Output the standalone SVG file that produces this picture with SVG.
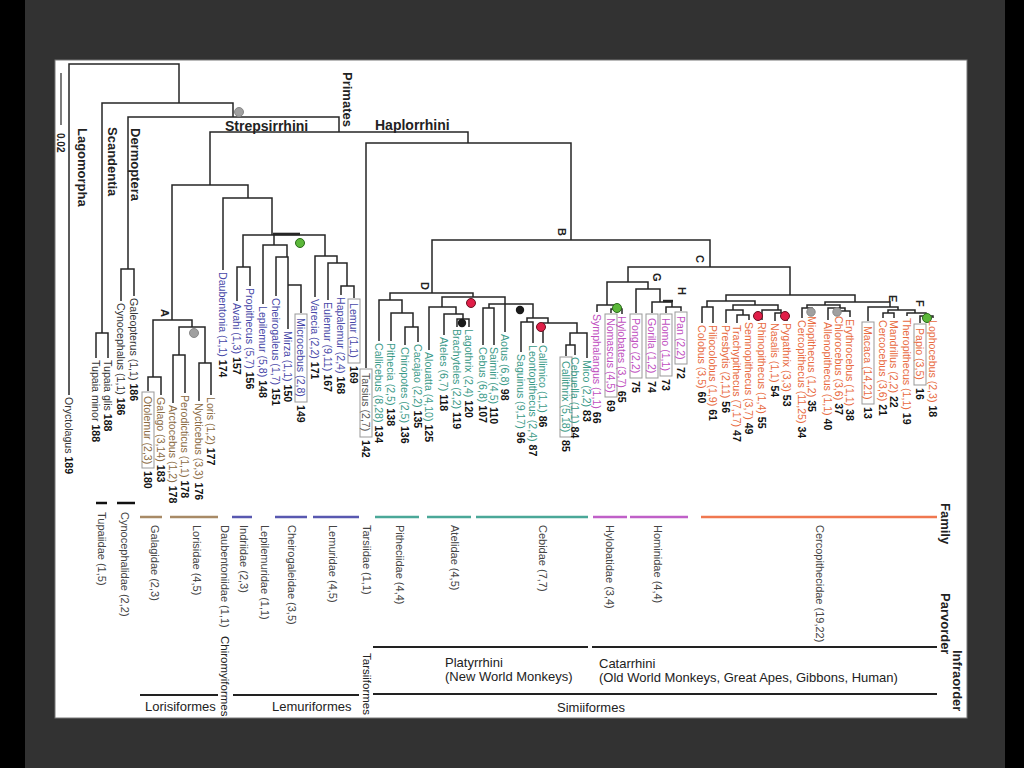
<svg xmlns="http://www.w3.org/2000/svg" width="1024" height="768" viewBox="0 0 1024 768">
<style>
.br{fill:none;stroke:#262626;stroke-width:1.5}
.t{font-family:"Liberation Sans",Arial,sans-serif;font-size:10.6px;dominant-baseline:central}
.n{font-weight:bold;fill:#111}
.og{fill:#333}.lo{fill:#8a6a42}.le{fill:#4848a8}.ta{fill:#555}.pl{fill:#3a9a88}.ho{fill:#c04ec0}.ce{fill:#e86a40}
.bx{fill:none;stroke:#999;stroke-width:1}
.cl{font-family:"Liberation Sans",Arial,sans-serif;font-weight:bold;fill:#222}
.nl{font-family:"Liberation Sans",Arial,sans-serif;font-weight:bold;font-size:11px;fill:#222;dominant-baseline:central}
.fm{font-family:"Liberation Sans",Arial,sans-serif;font-size:11px;fill:#444;dominant-baseline:central}
.fb{fill:none;stroke-width:2.5}
.lv{fill:none;stroke:#222;stroke-width:2}
.lt{font-family:"Liberation Sans",Arial,sans-serif;font-size:13px;fill:#222}
.lr{font-family:"Liberation Sans",Arial,sans-serif;font-size:11.5px;fill:#222;dominant-baseline:central}
.dg{fill:#a0a0a0;stroke:#888}.dgr{fill:#5cb83a;stroke:#2a6a1a}.dr{fill:#e01e48;stroke:#6a1020}.dk{fill:#1a1a1a}
</style>
<rect width="1024" height="768" fill="#323232"/>
<rect x="0" y="0" width="25" height="768" fill="#000"/>
<rect x="1005" y="0" width="19" height="768" fill="#000"/>
<rect x="55" y="60" width="912" height="658" fill="#fff" stroke="#777" stroke-width="1"/>

<g id="connectors" class="br">
<path d="M69 395V64H179V103"/>
<path d="M102 333V103H233V117"/>
<path d="M96 358V333H108V358"/>
<path d="M128 269V117H339V132"/>
<path d="M121 301V269H134V296"/>
<path d="M210 185V132H468V143"/>
<path d="M172 320V185H248V198"/>
<path d="M153 377V320H192V327"/>
<path d="M148 391V377H161V395"/>
<path d="M179 355V327H205V363"/>
<path d="M173 403V355H185V393"/>
<path d="M199 401V363H211V395"/>
<path d="M223 270V198H272V235"/>
<path d="M243 267V235H325V256"/>
<path d="M273 234H300" stroke-width="2.6"/>
<path d="M237 301V267H250V286"/>
<path d="M274 235V245"/>
<path d="M263 304V245H287V257"/>
<path d="M276 296V257H288V329"/>
<path d="M288 285H301V313"/>
<path d="M315 297V256H337V263"/>
<path d="M328 300V263H347V286"/>
<path d="M341 295V286H354V298"/>
<path d="M366 368V143H571V240"/>
<path d="M432 293V240H710V267"/>
<path d="M390 300V293H473V297"/>
<path d="M379 341V300H402V313"/>
<path d="M391 341V313H413V327"/>
<path d="M405 345V327H418V342"/>
<path d="M442 307V297H505V332"/>
<path d="M429 350V307H456V314"/>
<path d="M444 335V314H463V319"/>
<path d="M457 327V319H469V327"/>
<path d="M489 308V304H533V318"/>
<path d="M483 345V308H494V345"/>
<path d="M527 322V318H548V323"/>
<path d="M521 352V322H533V343"/>
<path d="M543 343V323H577V333"/>
<path d="M570 345V333H587V358"/>
<path d="M566 356V345H575V355"/>
<path d="M628 282V267H790V295"/>
<path d="M607 305V282H648V289"/>
<path d="M597 312V305H616V309"/>
<path d="M611 313V309H622V314"/>
<path d="M636 313V289H660V302"/>
<path d="M652 313V302H672V307"/>
<path d="M663 301H673" stroke-width="2.4"/>
<path d="M666 313V307H681V311"/>
<path d="M726 301V295H855V302"/>
<path d="M707 307V301H755V305"/>
<path d="M702 323V307H713V323"/>
<path d="M733 310V305H778V310"/>
<path d="M726 323V310H743V315"/>
<path d="M737 323V315H749V320"/>
<path d="M762 320V310H781V313"/>
<path d="M775 321V313H787V321"/>
<path d="M825 305V302H890V307"/>
<path d="M807 308V305H840V308"/>
<path d="M802 318V308H812V314"/>
<path d="M828 320V308H845V311"/>
<path d="M839 314V311H850V317"/>
<path d="M868 321V307H898V310"/>
<path d="M888 313V310H915V313"/>
<path d="M883 318V313H894V318"/>
<path d="M907 316V313H926V316"/>
<path d="M920 323V316H933V318"/>
<path d="M61 73V125" stroke-width="1.2"/>
</g>

<g id="markers">
<circle class="dg" cx="239" cy="112" r="4.5"/>
<circle class="dg" cx="194" cy="333" r="4.5"/>
<circle class="dgr" cx="300" cy="243" r="4.5"/>
<circle class="dr" cx="471" cy="303" r="4.5"/>
<circle class="dk" cx="462" cy="323" r="4.2"/>
<circle class="dk" cx="520" cy="310" r="4.2"/>
<circle class="dr" cx="541" cy="327" r="4.5"/>
<circle class="dgr" cx="617" cy="308" r="4.5"/>
<circle class="dr" cx="758" cy="316" r="4.5"/>
<circle class="dr" cx="785" cy="316" r="4.5"/>
<circle class="dg" cx="811" cy="312" r="4.2"/>
<circle class="dg" cx="837" cy="312" r="4.2"/>
<circle class="dgr" cx="927" cy="318" r="4.5"/>
</g>

<g id="clade-labels">
<text class="cl" font-size="13" transform="translate(343 72) rotate(90)">Primates</text>
<text class="cl" font-size="14" x="225" y="131">Strepsirrhini</text>
<text class="cl" font-size="14" x="375" y="130">Haplorrhini</text>
<text class="cl" font-size="13" transform="translate(78 128) rotate(90)">Lagomorpha</text>
<text class="cl" font-size="13" transform="translate(108 127) rotate(90)">Scandentia</text>
<text class="cl" font-size="13" transform="translate(131 128) rotate(90)">Dermoptera</text>
<text class="cl" font-size="10" transform="translate(57 133) rotate(90)">0.02</text>
<text class="nl" transform="translate(165 309) rotate(90)">A</text>
<text class="nl" transform="translate(562 228) rotate(90)">B</text>
<text class="nl" transform="translate(700 255) rotate(90)">C</text>
<text class="nl" transform="translate(425 282) rotate(90)">D</text>
<text class="nl" transform="translate(893 295) rotate(90)">E</text>
<text class="nl" transform="translate(920 300) rotate(90)">F</text>
<text class="nl" transform="translate(657 273) rotate(90)">G</text>
<text class="nl" transform="translate(682 287) rotate(90)">H</text>
</g>

<g id="taxa">
<g id="Oryctolagus"><text class="t og" transform="translate(69 397) rotate(90)">Oryctolagus <tspan class="n">189</tspan></text></g>
<g id="Tupaia-minor"><text class="t og" transform="translate(96 360) rotate(90)">Tupaia minor <tspan class="n">188</tspan></text></g>
<g id="Tupaia-glis"><text class="t og" transform="translate(108 360) rotate(90)">Tupaia glis <tspan class="n">188</tspan></text></g>
<g id="Cynocephalus"><text class="t og" transform="translate(121 303) rotate(90)">Cynocephalus (1,1) <tspan class="n">186</tspan></text></g>
<g id="Galeopterus"><text class="t og" transform="translate(134 298) rotate(90)">Galeopterus (1,1) <tspan class="n">186</tspan></text></g>

<g id="Otolemur"><rect class="bx" x="142" y="392" width="12" height="76"/><text class="t lo" transform="translate(148 396) rotate(90)">Otolemur (2,3)</text><text class="t n" transform="translate(148 471) rotate(90)">180</text></g>
<g id="Galago"><text class="t lo" transform="translate(161 397) rotate(90)">Galago (3,14) <tspan class="n">183</tspan></text></g>
<g id="Arctocebus"><text class="t lo" transform="translate(173 405) rotate(90)">Arctocebus (1,2) <tspan class="n">178</tspan></text></g>
<g id="Perodicticus"><text class="t lo" transform="translate(185 395) rotate(90)">Perodicticus (1,1) <tspan class="n">178</tspan></text></g>
<g id="Nycticebus"><text class="t lo" transform="translate(199 403) rotate(90)">Nycticebus (3,3) <tspan class="n">176</tspan></text></g>
<g id="Loris"><text class="t lo" transform="translate(211 397) rotate(90)">Loris (1,2) <tspan class="n">177</tspan></text></g>

<g id="Daubentonia"><text class="t le" transform="translate(223 272) rotate(90)">Daubentonia (1,1) <tspan class="n">174</tspan></text></g>
<g id="Avahi"><text class="t le" transform="translate(237 303) rotate(90)">Avahi (1,3) <tspan class="n">157</tspan></text></g>
<g id="Propithecus"><text class="t le" transform="translate(250 288) rotate(90)">Propithecus (5,7) <tspan class="n">156</tspan></text></g>
<g id="Lepilemur"><text class="t le" transform="translate(263 306) rotate(90)">Lepilemur (5,8) <tspan class="n">148</tspan></text></g>
<g id="Cheirogaleus"><text class="t le" transform="translate(276 298) rotate(90)">Cheirogaleus (1,7) <tspan class="n">151</tspan></text></g>
<g id="Mirza"><text class="t le" transform="translate(288 331) rotate(90)">Mirza (1,1) <tspan class="n">150</tspan></text></g>
<g id="Microcebus"><rect class="bx" x="295" y="314" width="12" height="88"/><text class="t le" transform="translate(301 318) rotate(90)">Microcebus (2,8)</text><text class="t n" transform="translate(301 405) rotate(90)">149</text></g>
<g id="Varecia"><text class="t le" transform="translate(315 299) rotate(90)">Varecia (2,2) <tspan class="n">171</tspan></text></g>
<g id="Eulemur"><text class="t le" transform="translate(328 302) rotate(90)">Eulemur (9,11) <tspan class="n">167</tspan></text></g>
<g id="Hapalemur"><text class="t le" transform="translate(341 297) rotate(90)">Hapalemur (2,4) <tspan class="n">168</tspan></text></g>
<g id="Lemur"><rect class="bx" x="348" y="299" width="12" height="64"/><text class="t le" transform="translate(354 303) rotate(90)">Lemur (1,1)</text><text class="t n" transform="translate(354 366) rotate(90)">169</text></g>
<g id="Tarsius"><rect class="bx" x="360" y="369" width="12" height="68"/><text class="t ta" transform="translate(366 373) rotate(90)">Tarsius (2,7)</text><text class="t n" transform="translate(366 440) rotate(90)">142</text></g>

<g id="Callicebus"><text class="t pl" transform="translate(379 343) rotate(90)">Callicebus (8,28) <tspan class="n">134</tspan></text></g>
<g id="Pithecia"><text class="t pl" transform="translate(391 343) rotate(90)">Pithecia (2,5) <tspan class="n">138</tspan></text></g>
<g id="Chiropotes"><text class="t pl" transform="translate(405 347) rotate(90)">Chiropotes (2,5) <tspan class="n">136</tspan></text></g>
<g id="Cacajao"><text class="t pl" transform="translate(418 344) rotate(90)">Cacajao (2,2) <tspan class="n">135</tspan></text></g>
<g id="Alouatta"><text class="t pl" transform="translate(429 352) rotate(90)">Alouatta (4,10) <tspan class="n">125</tspan></text></g>
<g id="Ateles"><text class="t pl" transform="translate(444 337) rotate(90)">Ateles (6,7) <tspan class="n">118</tspan></text></g>
<g id="Brachyteles"><text class="t pl" transform="translate(457 329) rotate(90)">Brachyteles (2,2) <tspan class="n">119</tspan></text></g>
<g id="Lagothrix"><text class="t pl" transform="translate(469 329) rotate(90)">Lagothrix (2,4) <tspan class="n">120</tspan></text></g>
<g id="Cebus"><text class="t pl" transform="translate(483 347) rotate(90)">Cebus (6,8) <tspan class="n">107</tspan></text></g>
<g id="Saimiri"><text class="t pl" transform="translate(494 347) rotate(90)">Saimiri (4,5) <tspan class="n">110</tspan></text></g>
<g id="Aotus"><text class="t pl" transform="translate(505 334) rotate(90)">Aotus (6,8) <tspan class="n">98</tspan></text></g>
<g id="Saguinus"><text class="t pl" transform="translate(521 354) rotate(90)">Saguinus (9,17) <tspan class="n">96</tspan></text></g>
<g id="Leontopithecus"><text class="t pl" transform="translate(533 345) rotate(90)">Leontopithecus (2,4) <tspan class="n">87</tspan></text></g>
<g id="Callimico"><text class="t pl" transform="translate(543 345) rotate(90)">Callimico (1,1) <tspan class="n">86</tspan></text></g>
<g id="Callithrix"><rect class="bx" x="560" y="357" width="12" height="80"/><text class="t pl" transform="translate(566 361) rotate(90)">Callithrix (5,18)</text><text class="t n" transform="translate(566 440) rotate(90)">85</text></g>
<g id="Cebuella"><text class="t pl" transform="translate(575 357) rotate(90)">Cebuella (1,1) <tspan class="n">84</tspan></text></g>
<g id="Mico"><text class="t pl" transform="translate(587 360) rotate(90)">Mico (2,2) <tspan class="n">83</tspan></text></g>

<g id="Symphalangus"><text class="t ho" transform="translate(597 314) rotate(90)">Symphalangus (1,1) <tspan class="n">66</tspan></text></g>
<g id="Nomascus"><rect class="bx" x="605" y="314" width="12" height="83"/><text class="t ho" transform="translate(611 318) rotate(90)">Nomascus (4,5)</text><text class="t n" transform="translate(611 400) rotate(90)">69</text></g>
<g id="Hylobates"><text class="t ho" transform="translate(622 316) rotate(90)">Hylobates (3,7) <tspan class="n">65</tspan></text></g>
<g id="Pongo"><rect class="bx" x="630" y="314" width="12" height="64"/><text class="t ho" transform="translate(636 318) rotate(90)">Pongo (2,2)</text><text class="t n" transform="translate(636 381) rotate(90)">75</text></g>
<g id="Gorilla"><rect class="bx" x="646" y="314" width="12" height="64"/><text class="t ho" transform="translate(652 318) rotate(90)">Gorilla (1,2)</text><text class="t n" transform="translate(652 381) rotate(90)">74</text></g>
<g id="Homo"><rect class="bx" x="660" y="314" width="12" height="62"/><text class="t ho" transform="translate(666 318) rotate(90)">Homo (1,1)</text><text class="t n" transform="translate(666 379) rotate(90)">73</text></g>
<g id="Pan"><rect class="bx" x="675" y="312" width="12" height="52"/><text class="t ho" transform="translate(681 316) rotate(90)">Pan (2,2)</text><text class="t n" transform="translate(681 367) rotate(90)">72</text></g>

<g id="Colobus"><text class="t ce" transform="translate(702 325) rotate(90)">Colobus (3,5) <tspan class="n">60</tspan></text></g>
<g id="Piliocolobus"><text class="t ce" transform="translate(713 325) rotate(90)">Piliocolobus (1,9) <tspan class="n">61</tspan></text></g>
<g id="Presbytis"><text class="t ce" transform="translate(726 325) rotate(90)">Presbytis (2,11) <tspan class="n">56</tspan></text></g>
<g id="Trachypithecus"><text class="t ce" transform="translate(737 325) rotate(90)">Trachypithecus (7,17) <tspan class="n">47</tspan></text></g>
<g id="Semnopithecus"><text class="t ce" transform="translate(749 322) rotate(90)">Semnopithecus (3,7) <tspan class="n">49</tspan></text></g>
<g id="Rhinopithecus"><text class="t ce" transform="translate(762 322) rotate(90)">Rhinopithecus (1,4) <tspan class="n">55</tspan></text></g>
<g id="Nasalis"><text class="t ce" transform="translate(775 323) rotate(90)">Nasalis (1,1) <tspan class="n">54</tspan></text></g>
<g id="Pygathrix"><text class="t ce" transform="translate(787 323) rotate(90)">Pygathrix (3,3) <tspan class="n">53</tspan></text></g>
<g id="Cercopithecus"><text class="t ce" transform="translate(802 320) rotate(90)">Cercopithecus (11,25) <tspan class="n">34</tspan></text></g>
<g id="Miopithecus"><text class="t ce" transform="translate(812 316) rotate(90)">Miopithecus (1,2) <tspan class="n">35</tspan></text></g>
<g id="Allenopithecus"><text class="t ce" transform="translate(828 322) rotate(90)">Allenopithecus (1,1) <tspan class="n">40</tspan></text></g>
<g id="Chlorocebus"><text class="t ce" transform="translate(839 316) rotate(90)">Chlorocebus (3,6) <tspan class="n">37</tspan></text></g>
<g id="Erythrocebus"><text class="t ce" transform="translate(850 319) rotate(90)">Erythrocebus (1,1) <tspan class="n">38</tspan></text></g>
<g id="Macaca"><rect class="bx" x="862" y="322" width="12" height="82"/><text class="t ce" transform="translate(868 326) rotate(90)">Macaca (14,21)</text><text class="t n" transform="translate(868 407) rotate(90)">13</text></g>
<g id="Cercocebus"><text class="t ce" transform="translate(883 320) rotate(90)">Cercocebus (3,6) <tspan class="n">21</tspan></text></g>
<g id="Mandrillus"><text class="t ce" transform="translate(894 320) rotate(90)">Mandrillus (2,2) <tspan class="n">22</tspan></text></g>
<g id="Theropithecus"><text class="t ce" transform="translate(907 318) rotate(90)">Theropithecus (1,1) <tspan class="n">19</tspan></text></g>
<g id="Papio"><rect class="bx" x="914" y="324" width="12" height="61"/><text class="t ce" transform="translate(920 328) rotate(90)">Papio (3,5)</text><text class="t n" transform="translate(920 388) rotate(90)">16</text></g>
<g id="Lophocebus"><text class="t ce" transform="translate(933 320) rotate(90)">Lophocebus (2,3) <tspan class="n">18</tspan></text></g>
</g>

<g id="families">
<path class="fb" stroke="#111" d="M96 503H107M117 503H135"/>
<path class="fb" stroke="#a88a66" d="M140 517H162M170 517H218"/>
<path class="fb" stroke="#5858b0" d="M232 517H252M275 517H307M313 517H359"/>
<path class="fb" stroke="#4aa898" d="M375 517H419M427 517H471M476 517H588"/>
<path class="fb" stroke="#c060c8" d="M593 517H627M630 517H688"/>
<path class="fb" stroke="#f07850" d="M701 517H937"/>
<text class="fm" transform="translate(102 512) rotate(90)">Tupaiidae (1,5)</text>
<text class="fm" transform="translate(125 512) rotate(90)">Cynocephalidae (2,2)</text>
<text class="fm" transform="translate(155 525) rotate(90)">Galagidae (2,3)</text>
<text class="fm" transform="translate(197 525) rotate(90)">Lorisidae (4,5)</text>
<text class="fm" transform="translate(225 525) rotate(90)">Daubentoniidae (1,1)</text>
<text class="fm" transform="translate(244 525) rotate(90)">Indriidae (2,3)</text>
<text class="fm" transform="translate(265 525) rotate(90)">Lepilemuridae (1,1)</text>
<text class="fm" transform="translate(292 525) rotate(90)">Cheirogaleidae (3,5)</text>
<text class="fm" transform="translate(333 525) rotate(90)">Lemuridae (4,5)</text>
<text class="fm" transform="translate(367 525) rotate(90)">Tarsiidae (1,1)</text>
<text class="fm" transform="translate(400 525) rotate(90)">Pitheciidae (4,4)</text>
<text class="fm" transform="translate(455 525) rotate(90)">Atelidae (4,5)</text>
<text class="fm" transform="translate(543 525) rotate(90)">Cebidae (7,7)</text>
<text class="fm" transform="translate(610 525) rotate(90)">Hylobatidae (3,4)</text>
<text class="fm" transform="translate(658 525) rotate(90)">Hominidae (4,4)</text>
<text class="fm" transform="translate(820 525) rotate(90)">Cercopithecidae (19,22)</text>
</g>

<g id="orders">
<path class="lv" d="M373 647H588M592 647H937M373 694H937M140 695H218M233 695H359"/>
<text class="lt" x="445" y="667">Platyrrhini</text>
<text class="lt" x="445" y="681">(New World Monkeys)</text>
<text class="lt" x="599" y="668">Catarrhini</text>
<text class="lt" x="599" y="682">(Old World Monkeys, Great Apes, Gibbons, Human)</text>
<text class="lt" x="557" y="712">Simiiformes</text>
<text class="lt" x="145" y="711">Lorisiformes</text>
<text class="lt" x="272" y="711">Lemuriformes</text>
<text class="lr" transform="translate(225 636) rotate(90)">Chiromyiformes</text>
<text class="lr" transform="translate(367 653) rotate(90)">Tarsiiformes</text>
<text class="cl" font-size="13" dominant-baseline="central" transform="translate(945 503) rotate(90)">Family</text>
<text class="cl" font-size="13" dominant-baseline="central" transform="translate(945 593) rotate(90)">Parvorder</text>
<text class="cl" font-size="13" dominant-baseline="central" transform="translate(957 650) rotate(90)">Infraorder</text>
</g>
</svg>
